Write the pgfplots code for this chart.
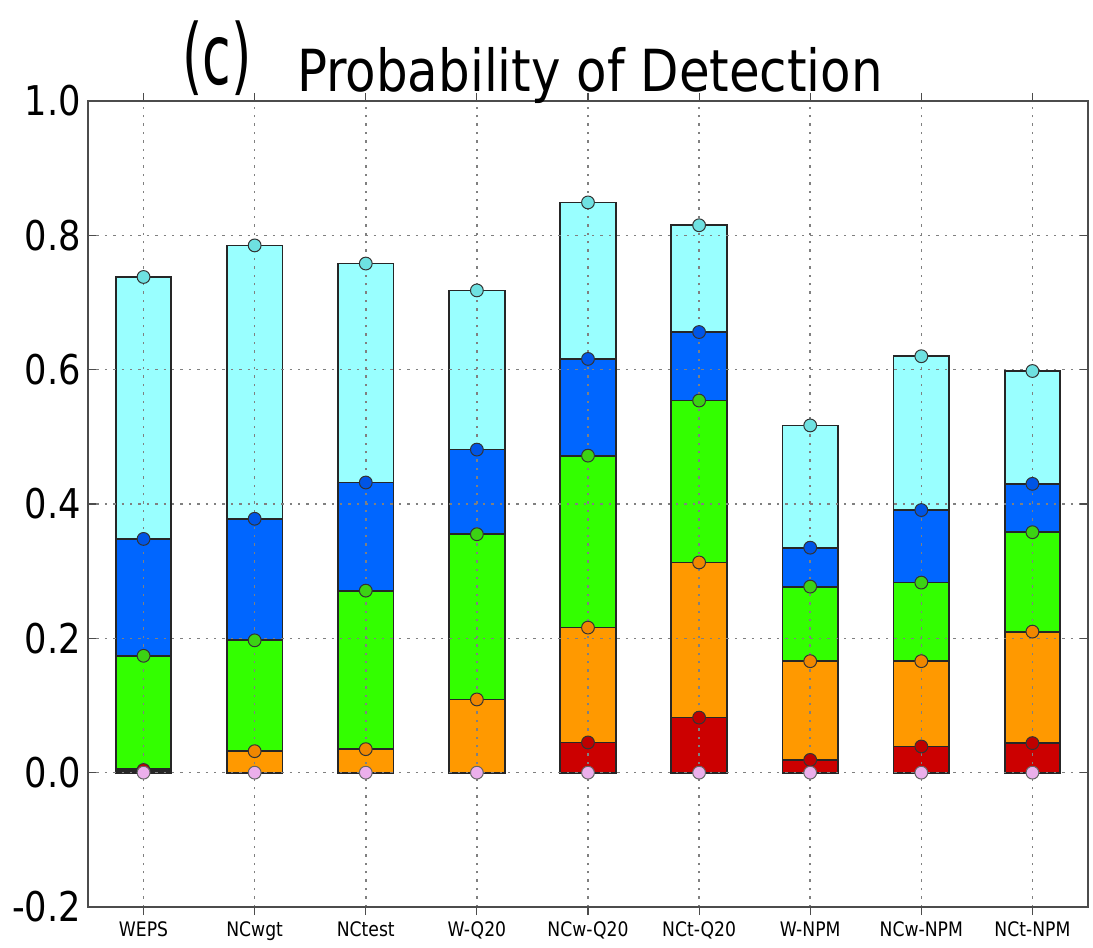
\documentclass[border=0pt]{standalone}
\usepackage{fontspec}
\setmainfont{DejaVu Sans}[FakeStretch=0.86]
\newfontfamily\plainfont{DejaVu Sans}
\usepackage{pgfplots}
\pgfplotsset{compat=1.18}
\definecolor{cyanF}{RGB}{153,255,255}
\definecolor{cyanM}{RGB}{110,225,225}
\definecolor{blueF}{RGB}{0,102,255}
\definecolor{blueM}{RGB}{0,85,230}
\definecolor{greenF}{RGB}{51,255,0}
\definecolor{greenM}{RGB}{60,210,20}
\definecolor{orangeF}{RGB}{255,153,0}
\definecolor{orangeM}{RGB}{240,135,0}
\definecolor{redF}{RGB}{204,0,0}
\definecolor{redM}{RGB}{190,0,0}
\definecolor{pinkM}{RGB}{235,175,235}
\begin{document}
\begin{tikzpicture}
\begin{axis}[
  at={(0,0)}, anchor=south west,
  scale only axis, width=500pt, height=403pt,
  xmin=-0.5, xmax=8.5, ymin=-0.2, ymax=1.0,
  xtick={0,...,8},
  xticklabels={WEPS,NCwgt,NCtest,W-Q20,NCw-Q20,NCt-Q20,W-NPM,NCw-NPM,NCt-NPM},
  ytick={-0.2,0,0.2,0.4,0.6,0.8,1.0},
  yticklabel style={font=\fontsize{20.5}{22}\selectfont, /pgf/number format/.cd, fixed, fixed zerofill, precision=1, assume math mode=true},
  xticklabel style={font=\fontsize{10}{12}\selectfont},
  tick align=inside, major tick length=4pt,
  tick style={black!70, line width=0.6pt},
  xtick pos=both, ytick pos=both,
  grid=major,
  major grid style={black!50, dash pattern=on 1.2pt off 3pt, line width=0.8pt},
  axis line style={black!70, line width=1pt},
  axis on top,
  ybar, bar width=0.5, bar shift=0pt,
  every axis plot/.append style={draw=black!85, line width=0.9pt},
]
% cumulative tops
\addplot[fill=cyanF] coordinates {(0,0.738) (1,0.785) (2,0.758) (3,0.718) (4,0.849) (5,0.815) (6,0.517) (7,0.620) (8,0.598)};
\addplot[fill=blueF] coordinates {(0,0.348) (1,0.378) (2,0.432) (3,0.481) (4,0.616) (5,0.656) (6,0.335) (7,0.391) (8,0.430)};
\addplot[fill=greenF] coordinates {(0,0.174) (1,0.197) (2,0.271) (3,0.355) (4,0.472) (5,0.554) (6,0.277) (7,0.283) (8,0.358)};
\addplot[fill=orangeF] coordinates {(0,0.005) (1,0.032) (2,0.035) (3,0.109) (4,0.216) (5,0.313) (6,0.166) (7,0.166) (8,0.210)};
\addplot[fill=redF] coordinates {(0,0.002) (1,0.0) (2,0.0) (3,0.0) (4,0.045) (5,0.082) (6,0.019) (7,0.039) (8,0.044)};
% markers
\addplot[only marks, mark=*, mark size=3.2pt, draw=black!80, line width=0.5pt, mark options={fill=cyanM}] coordinates {(0,0.738) (1,0.785) (2,0.758) (3,0.718) (4,0.849) (5,0.815) (6,0.517) (7,0.620) (8,0.598)};
\addplot[only marks, mark=*, mark size=3.2pt, draw=black!80, line width=0.5pt, mark options={fill=blueM}] coordinates {(0,0.348) (1,0.378) (2,0.432) (3,0.481) (4,0.616) (5,0.656) (6,0.335) (7,0.391) (8,0.430)};
\addplot[only marks, mark=*, mark size=3.2pt, draw=black!80, line width=0.5pt, mark options={fill=greenM}] coordinates {(0,0.174) (1,0.197) (2,0.271) (3,0.355) (4,0.472) (5,0.554) (6,0.277) (7,0.283) (8,0.358)};
\addplot[only marks, mark=*, mark size=3.2pt, draw=black!80, line width=0.5pt, mark options={fill=orangeM}] coordinates {(1,0.032) (2,0.035) (3,0.109) (4,0.216) (5,0.313) (6,0.166) (7,0.166) (8,0.210)};
\addplot[only marks, mark=*, mark size=3.2pt, draw=black!80, line width=0.5pt, mark options={fill=redM}] coordinates {(0,0.004) (4,0.045) (5,0.082) (6,0.019) (7,0.039) (8,0.044)};
\addplot[only marks, mark=*, mark size=3.2pt, draw=black!60, line width=0.5pt, mark options={fill=pinkM}] coordinates {(0,0) (1,0) (2,0) (3,0) (4,0) (5,0) (6,0) (7,0) (8,0)};
\end{axis}
\node[anchor=base, font=\fontsize{29}{31}\selectfont] at (251pt,407.5pt) {Probability of Detection};
\node[anchor=base, inner sep=0pt, font=\plainfont\fontsize{42}{44}\selectfont] at (64.5pt,411pt) {\scalebox{0.62}[1]{(c)}};
\useasboundingbox (-44pt,-18pt) rectangle (502.5pt,453.5pt);
\end{tikzpicture}
\end{document}
